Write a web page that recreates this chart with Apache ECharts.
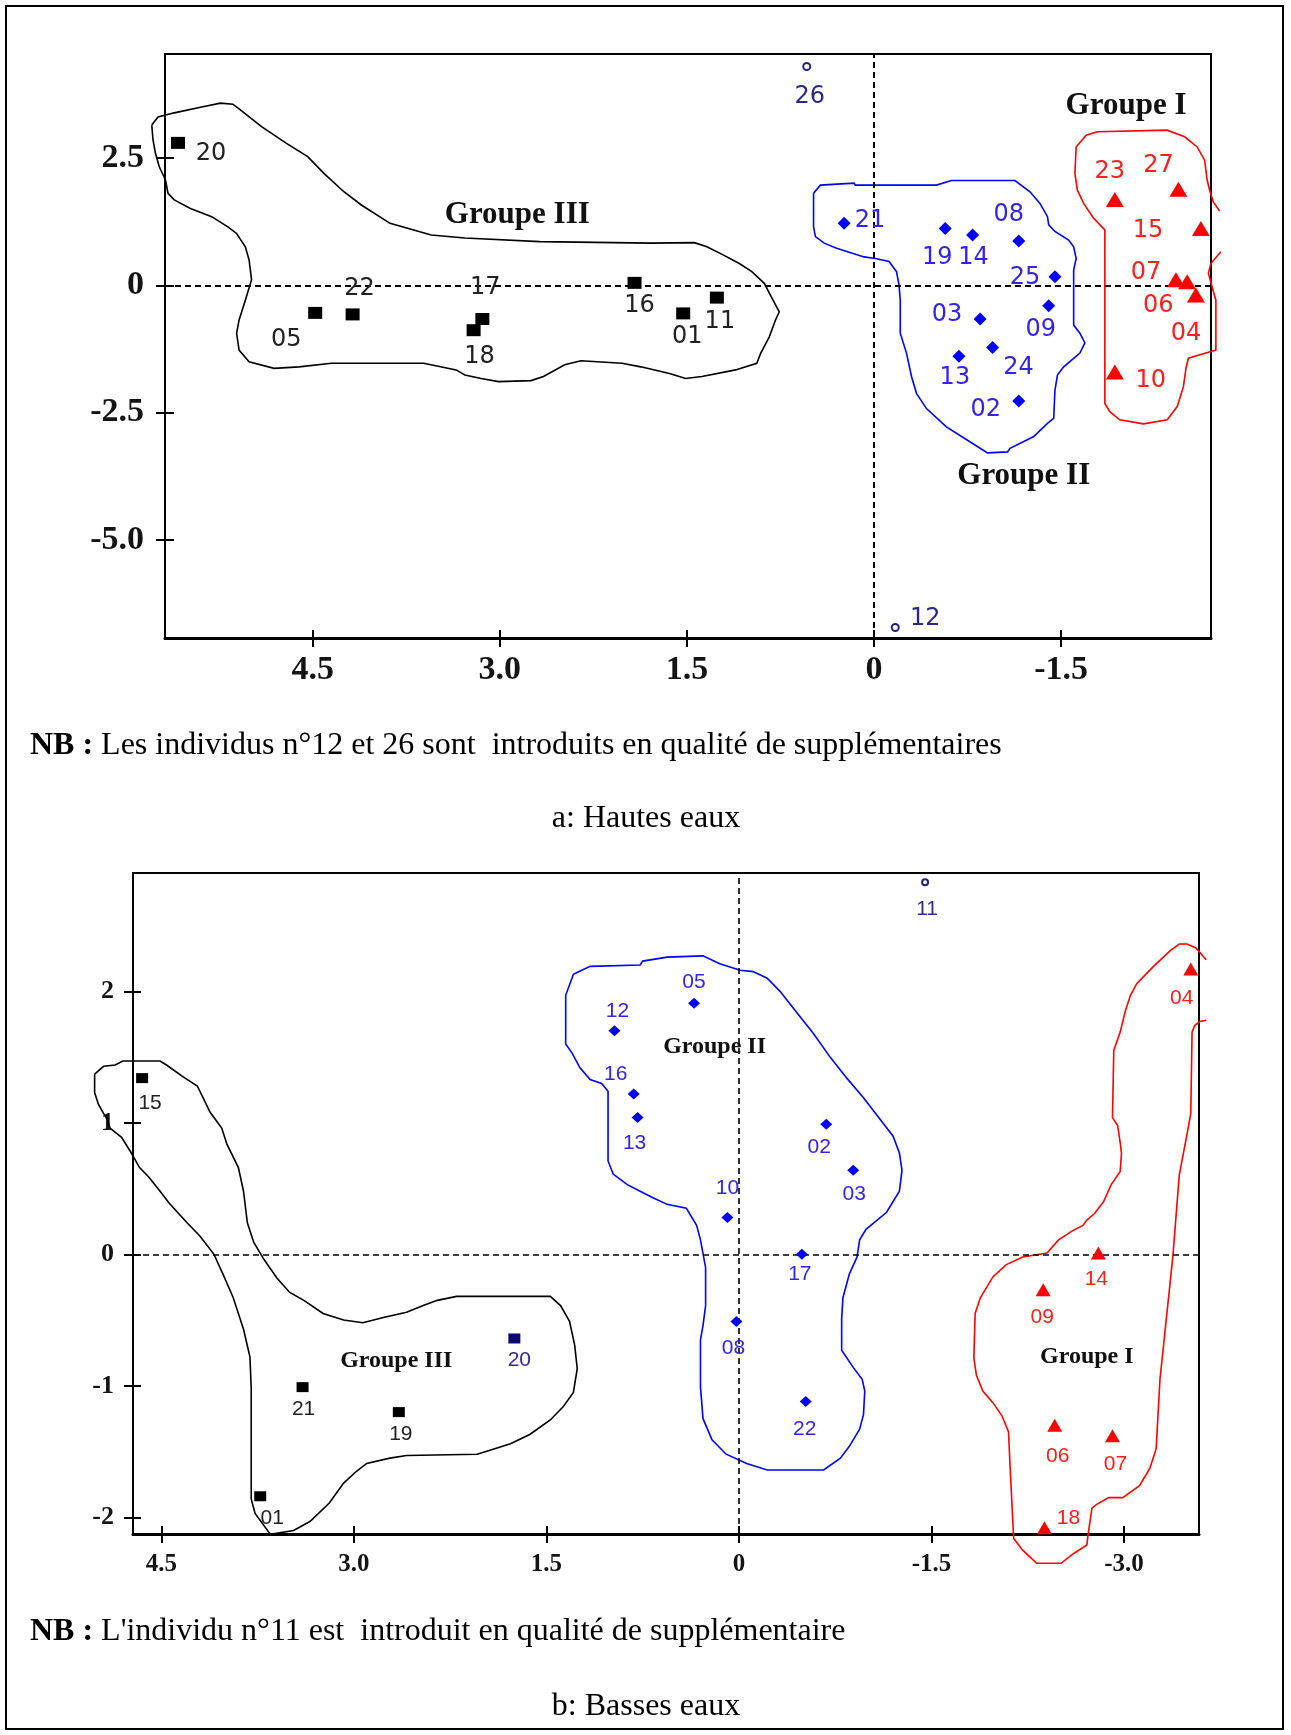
<!DOCTYPE html>
<html>
<head>
<meta charset="utf-8">
<script src="https://cdn.jsdelivr.net/npm/echarts@6/dist/echarts.min.js"></script>
<style>
  html, body { margin: 0; padding: 0; background: #fff; }
  #chart { width: 1291px; height: 1735px; }
</style>
</head>
<body>
<div id="chart"></div>
<script>
// ===== a: Hautes eaux — individuals as [id, F1, F2] =====
const hautesGroupeIII = [
  ['20', 5.58, 2.80], ['05', 4.48, -0.54], ['22', 4.18, -0.57], ['17', 3.14, -0.66],
  ['18', 3.21, -0.88], ['16', 1.92, 0.05], ['01', 1.53, -0.55], ['11', 1.26, -0.24]
];
const hautesGroupeII = [
  ['21', 0.24, 1.22], ['19', -0.57, 1.12], ['14', -0.79, 0.99], ['08', -1.16, 0.87],
  ['25', -1.45, 0.17], ['09', -1.40, -0.40], ['03', -0.85, -0.66], ['24', -0.95, -1.22],
  ['13', -0.68, -1.39], ['02', -1.16, -2.27]
];
const hautesGroupeI = [
  ['23', -1.93, 1.69], ['27', -2.44, 1.89], ['15', -2.62, 1.12], ['07', -2.42, 0.11],
  ['06', -2.51, 0.07], ['04', -2.58, -0.19], ['10', -1.93, -1.70]
];
const hautesSupplementaires = [['26', 0.54, 4.30], ['12', -0.17, -6.72]];

// group envelopes (factor-plane units)
const hautesContourIII = [
  [5.79,3.15],[5.74,3.31],[5.61,3.39],[5.38,3.51],[5.24,3.58],[5.14,3.56],[5.08,3.45],[4.91,3.12],
  [4.71,2.79],[4.54,2.53],[4.41,2.20],[4.25,1.84],[4.11,1.58],[3.88,1.22],[3.55,0.99],[3.28,0.93],
  [2.68,0.86],[1.79,0.83],[1.44,0.84],[1.34,0.76],[1.21,0.60],[1.08,0.43],[0.98,0.27],[0.88,0.04],
  [0.81,-0.29],[0.76,-0.52],[0.79,-0.68],[0.84,-1.01],[0.91,-1.34],[0.94,-1.53],[1.11,-1.66],
  [1.38,-1.79],[1.51,-1.83],[1.64,-1.73],[1.87,-1.60],[2.02,-1.53],[2.35,-1.48],[2.48,-1.56],
  [2.65,-1.79],[2.75,-1.87],[3.01,-1.89],[3.15,-1.83],[3.28,-1.76],[3.35,-1.66],[3.61,-1.53],
  [4.35,-1.53],[4.61,-1.60],[4.81,-1.63],[5.01,-1.50],[5.09,-1.27],[5.11,-0.94],[5.09,-0.68],
  [5.04,-0.29],[4.99,0.11],[5.01,0.50],[5.04,0.76],[5.11,1.02],[5.18,1.15],[5.31,1.35],[5.48,1.51],
  [5.61,1.68],[5.66,1.81],[5.68,2.07],[5.73,2.33],[5.76,2.59],[5.78,2.86]
];
const hautesContourII = [
  [0.485,1.81],[0.43,1.97],[0.16,2.01],[0.15,1.97],[-0.50,1.97],[-0.62,2.06],[-1.13,2.06],[-1.25,1.84],
  [-1.33,1.61],[-1.39,1.35],[-1.40,1.19],[-1.45,1.06],[-1.56,0.89],[-1.60,0.76],[-1.62,0.53],[-1.60,0.30],
  [-1.60,-0.35],[-1.60,-0.78],[-1.65,-0.94],[-1.69,-1.13],[-1.65,-1.33],[-1.52,-1.60],[-1.47,-1.76],
  [-1.45,-2.06],[-1.44,-2.61],[-1.39,-2.71],[-1.28,-2.97],[-1.09,-3.20],[-1.07,-3.27],[-0.91,-3.29],
  [-0.85,-3.20],[-0.58,-2.78],[-0.42,-2.42],[-0.34,-2.12],[-0.30,-1.79],[-0.26,-1.33],[-0.21,-0.94],
  [-0.21,-0.29],[-0.20,0.01],[-0.18,0.27],[-0.12,0.47],[-0.01,0.53],[0.08,0.56],[0.30,0.73],
  [0.40,0.83],[0.47,0.96],[0.485,1.15]
];
// open outline: it runs past the right frame of the plane
const hautesContourI = [
  [-2.78,0.66],[-2.70,0.43],[-2.68,0.24],[-2.72,-0.12],[-2.74,-0.29],[-2.74,-1.27],[-2.70,-1.30],
  [-2.52,-1.43],[-2.50,-1.63],[-2.48,-1.99],[-2.43,-2.38],[-2.35,-2.64],[-2.16,-2.72],[-1.97,-2.64],
  [-1.89,-2.48],[-1.85,-2.32],[-1.85,1.09],[-1.76,1.32],[-1.68,1.61],[-1.63,1.87],[-1.61,2.20],
  [-1.62,2.72],[-1.70,2.95],[-1.79,3.02],[-2.35,3.05],[-2.49,2.92],[-2.59,2.72],[-2.65,2.46],
  [-2.67,2.07],[-2.69,1.87],[-2.72,1.64],[-2.77,1.46]
];
const hautesXTicks = [4.5, 3.0, 1.5, 0, -1.5];
const hautesYTicks = [2.5, 0, -2.5, -5.0];

// ===== b: Basses eaux =====
const bassesGroupeIII = [
  ['15', 4.65, 1.34], ['21', 3.40, -1.01], ['19', 2.65, -1.20], ['01', 3.73, -1.84], ['20', 1.75, -0.64]
];
const bassesGroupeII = [
  ['05', 0.35, 1.91], ['12', 0.97, 1.70], ['16', 0.82, 1.22], ['13', 0.79, 1.04], ['02', -0.68, 0.99],
  ['03', -0.89, 0.64], ['10', 0.09, 0.28], ['17', -0.49, 0.00], ['08', 0.02, -0.51], ['22', -0.52, -1.12]
];
const bassesGroupeI = [
  ['04', -3.52, 2.17], ['14', -2.80, 0.01], ['09', -2.37, -0.27], ['06', -2.46, -1.30],
  ['07', -2.91, -1.38], ['18', -2.38, -2.08]
];
const bassesSupplementaires = [['11', -1.45, 2.83]];

const bassesContourIII = [
  [5.02,1.37],[5.02,1.23],[4.99,1.14],[4.92,1.02],[4.90,0.96],[4.81,0.89],[4.74,0.78],[4.67,0.66],
  [4.60,0.59],[4.51,0.48],[4.44,0.39],[4.30,0.24],[4.20,0.14],[4.09,0.00],[4.02,-0.15],[3.94,-0.33],
  [3.86,-0.57],[3.81,-0.78],[3.80,-1.02],[3.80,-1.29],[3.80,-1.86],[3.77,-1.97],[3.65,-2.13],
  [3.47,-2.10],[3.34,-2.03],[3.19,-1.89],[3.08,-1.74],[2.98,-1.65],[2.90,-1.59],[2.72,-1.55],
  [2.59,-1.53],[2.04,-1.52],[1.94,-1.49],[1.78,-1.44],[1.63,-1.37],[1.47,-1.26],[1.37,-1.16],
  [1.29,-1.05],[1.26,-0.87],[1.28,-0.69],[1.32,-0.51],[1.39,-0.39],[1.47,-0.32],[2.20,-0.32],
  [2.35,-0.35],[2.46,-0.39],[2.59,-0.44],[2.77,-0.48],[2.93,-0.52],[3.08,-0.50],[3.24,-0.45],
  [3.39,-0.35],[3.50,-0.29],[3.60,-0.18],[3.70,-0.04],[3.78,0.09],[3.83,0.24],[3.86,0.48],
  [3.90,0.66],[3.99,0.84],[4.03,0.96],[4.12,1.08],[4.22,1.28],[4.33,1.35],[4.46,1.44],[4.51,1.47],
  [4.80,1.47],[4.86,1.44],[4.95,1.43]
];
const bassesContourII = [
  [1.29,2.13],[1.16,2.19],[0.77,2.20],[0.75,2.23],[0.56,2.26],[0.28,2.27],[0.15,2.21],[-0.01,2.16],
  [-0.11,2.15],[-0.22,2.10],[-0.32,2.00],[-0.45,1.84],[-0.58,1.68],[-0.71,1.50],[-0.84,1.34],
  [-0.97,1.19],[-1.12,1.00],[-1.20,0.90],[-1.25,0.77],[-1.27,0.64],[-1.25,0.48],[-1.15,0.32],
  [-0.99,0.19],[-0.94,0.11],[-0.92,-0.02],[-0.86,-0.15],[-0.81,-0.33],[-0.80,-0.49],[-0.80,-0.73],
  [-0.89,-0.86],[-0.96,-0.95],[-0.98,-1.04],[-0.97,-1.22],[-0.94,-1.33],[-0.86,-1.46],[-0.79,-1.55],
  [-0.66,-1.64],[-0.22,-1.64],[-0.06,-1.59],[0.10,-1.52],[0.21,-1.41],[0.28,-1.25],[0.30,-1.01],
  [0.30,-0.65],[0.28,-0.54],[0.26,-0.39],[0.26,-0.10],[0.30,0.11],[0.33,0.22],[0.41,0.35],
  [0.56,0.38],[0.67,0.43],[0.77,0.48],[0.87,0.53],[0.98,0.61],[1.02,0.71],[1.02,1.24],[1.07,1.30],
  [1.16,1.33],[1.24,1.42],[1.30,1.53],[1.35,1.60],[1.35,1.97]
];
// open outline: both ends leave through the right frame
const bassesContourI = [
  [-3.64,2.24],[-3.56,2.33],[-3.49,2.36],[-3.43,2.36],[-3.36,2.31],[-3.23,2.19],[-3.10,2.06],
  [-3.05,1.97],[-3.01,1.85],[-2.97,1.69],[-2.92,1.55],[-2.91,1.04],[-2.95,0.98],[-2.97,0.85],
  [-2.98,0.77],[-2.97,0.63],[-2.90,0.53],[-2.84,0.40],[-2.77,0.31],[-2.71,0.26],[-2.68,0.22],
  [-2.60,0.18],[-2.49,0.11],[-2.40,0.01],[-2.21,-0.02],[-2.08,-0.08],[-1.98,-0.17],[-1.88,-0.33],
  [-1.84,-0.45],[-1.83,-0.79],[-1.85,-0.92],[-1.90,-1.04],[-1.98,-1.13],[-2.05,-1.23],[-2.10,-1.35],
  [-2.11,-1.57],[-2.14,-2.16],[-2.21,-2.25],[-2.32,-2.35],[-2.51,-2.35],[-2.60,-2.28],[-2.71,-2.21],
  [-2.72,-2.13],[-2.75,-1.93],[-2.79,-1.90],[-2.88,-1.85],[-2.99,-1.85],[-3.12,-1.76],[-3.20,-1.63],
  [-3.25,-1.48],[-3.28,-0.95],[-3.38,-0.02],[-3.43,0.60],[-3.49,0.91],[-3.52,1.07],[-3.53,1.69],
  [-3.55,1.74],[-3.59,1.77],[-3.64,1.78]
];
const bassesXTicks = [4.5, 3.0, 1.5, 0, -1.5, -3.0];
const bassesYTicks = [2, 1, 0, -1, -2];

// ----- label placement (pixel offsets from each marker) -----
const hautesLabelOffset = {
  '20': [33, 11], '05': [-29, 27], '22': [7, -26], '17': [3, -31], '18': [6, 27], '16': [5, 23],
  '01': [4, 23], '11': [3, 24],
  '21': [26, -3], '19': [-8, 29], '14': [1, 23], '08': [-10, -26], '25': [-30, 1], '09': [-8, 24],
  '03': [-33, -4], '24': [26, 20], '13': [-4, 22], '02': [-33, 9],
  '23': [-5, -28], '27': [-20, -23], '15': [-53, 2], '07': [-30, -7], '06': [-29, 24], '04': [-10, 39],
  '10': [36, 9],
  '26': [3, 30], '12': [30, -9]
};
const bassesLabelOffset = {
  '15': [8, 25], '21': [1, 22], '19': [2, 22], '01': [12, 22], '20': [5, 22],
  '05': [0, -21], '12': [3, -20], '16': [-18, -20], '13': [-3, 26], '02': [-7, 23], '03': [1, 24],
  '10': [0, -29], '17': [-2, 20], '08': [-3, 27], '22': [-1, 28],
  '04': [-9, 29], '14': [-2, 26], '09': [-1, 27], '06': [3, 31], '07': [3, 28], '18': [24, -10],
  '11': [2, 27]
};

// ----- chart construction -----
const chart = echarts.init(document.getElementById('chart'), null, { renderer: 'canvas', width: 1291, height: 1735 });

const decimalTick = v => (v === 0 ? '0' : v.toFixed(1));
const integerTick = v => String(v);

function axisPair(kind, gridIndex, min, max, ticks, fmt, o) {
  const common = {
    type: 'value', gridIndex, min, max,
    position: kind === 'x' ? 'bottom' : 'left',
    inverse: kind === 'x',
    splitLine: { show: false }, splitArea: { show: false }
  };
  const outer = Object.assign({}, common, {
    axisLine: { show: true, onZero: false, lineStyle: { color: '#000', width: o.lineWidth } },
    axisTick: { show: true, inside: false, length: o.tickOut, customValues: ticks, lineStyle: { color: '#000', width: 2 } },
    axisLabel: {
      show: true, customValues: ticks, formatter: fmt, margin: o.margin, color: '#141414',
      fontFamily: '"Liberation Serif", serif', fontWeight: 'bold', fontSize: o.fontSize
    }
  });
  const inner = Object.assign({}, common, {
    axisLine: { show: false, onZero: false },
    axisTick: { show: true, inside: true, length: o.tickIn, customValues: ticks, lineStyle: { color: '#000', width: 2 } },
    axisLabel: { show: false }
  });
  return [outer, inner];
}

// envelope drawn as one polyline, each vertex mapped through the axes
function contourSeries(points, color, gi, closed) {
  const pts = closed ? points.concat([points[0]]) : points;
  return {
    type: 'custom', xAxisIndex: gi, yAxisIndex: gi, clip: false, silent: true, animation: false, z: 2,
    data: [0],
    renderItem: (params, api) => ({
      type: 'polyline',
      shape: { points: pts.map(p => api.coord(p)) },
      style: { stroke: color, fill: null, lineWidth: 1.6 }
    })
  };
}

function pointSeries(rows, gi, marker, offsets, labelStyle, overrides) {
  return {
    type: 'scatter', xAxisIndex: gi, yAxisIndex: gi, clip: false, silent: true, animation: false, z: 5,
    symbol: marker.shape, symbolSize: marker.size, itemStyle: Object.assign({ opacity: 1 }, marker.item),
    label: Object.assign({ show: true, position: 'inside', formatter: '{b}' }, labelStyle),
    data: rows.map(([id, x, y]) => {
      const item = { name: id, value: [x, y], label: { offset: offsets[id] || [0, 0] } };
      const ov = overrides && overrides[id];
      if (ov) {
        item.itemStyle = Object.assign({ opacity: 1 }, ov.itemStyle);
        item.label.color = ov.labelColor;
      }
      return item;
    })
  };
}

function groupNameSeries(names, gi, fontSize) {
  return {
    type: 'scatter', xAxisIndex: gi, yAxisIndex: gi, clip: false, silent: true, animation: false, z: 6,
    symbolSize: 0, itemStyle: { opacity: 1 },
    label: {
      show: true, position: 'inside', formatter: '{b}', color: '#111',
      fontFamily: '"Liberation Serif", serif', fontWeight: 'bold', fontSize
    },
    data: names.map(([name, x, y]) => ({ name, value: [x, y] })),
    markLine: {
      silent: true, animation: false, symbol: ['none', 'none'], label: { show: false },
      lineStyle: { color: '#000', type: [6, 4], width: gi === 0 ? 2 : 1.6, opacity: 1 },
      data: [{ xAxis: 0 }, { yAxis: 0 }]
    }
  };
}

const hautesGroupNames = [['Groupe III', 2.86, 1.39], ['Groupe I', -2.02, 3.53], ['Groupe II', -1.20, -3.74]];
const bassesGroupNames = [['Groupe II', 0.19, 1.58], ['Groupe III', 2.67, -0.81], ['Groupe I', -2.71, -0.78]];

const square = (w, h, c) => ({ shape: 'rect', size: [w, h], item: { color: c } });
const diamond = (w, h) => ({ shape: 'diamond', size: [w, h], item: { color: '#0000ff' } });
const triangle = (w, h) => ({ shape: 'triangle', size: [w, h], item: { color: '#ff0000' } });
const ring = s => ({ shape: 'emptyCircle', size: s, item: { color: '#23237a', borderWidth: 1.5 } });

const topLabel = c => ({ color: c, fontFamily: '"DejaVu Sans", sans-serif', fontSize: 24 });
const botLabel = c => ({ color: c, fontFamily: '"Liberation Sans", sans-serif', fontSize: 21 });

const [hxo, hxi] = axisPair('x', 0, -2.701, 5.684, hautesXTicks, decimalTick, { lineWidth: 3, tickOut: 9, tickIn: 8, margin: 15, fontSize: 34 });
const [hyo, hyi] = axisPair('y', 0, -6.927, 4.546, hautesYTicks, decimalTick, { lineWidth: 2, tickOut: 9, tickIn: 9, margin: 21, fontSize: 34 });
const [bxo, bxi] = axisPair('x', 1, -3.584, 4.721, bassesXTicks, decimalTick, { lineWidth: 3, tickOut: 9, tickIn: 8, margin: 18, fontSize: 25 });
const [byo, byi] = axisPair('y', 1, -2.127, 2.900, bassesYTicks, integerTick, { lineWidth: 2, tickOut: 9, tickIn: 8, margin: 19, fontSize: 26 });

const option = {
  backgroundColor: '#fff',
  animation: false,
  grid: [
    { left: 165, top: 54, width: 1046, height: 584, show: true, borderColor: '#000', borderWidth: 2, backgroundColor: 'transparent' },
    { left: 133, top: 873, width: 1066, height: 661, show: true, borderColor: '#000', borderWidth: 2, backgroundColor: 'transparent' }
  ],
  xAxis: [hxo, bxo, hxi, bxi],
  yAxis: [hyo, byo, hyi, byi],
  series: [
    // a: Hautes eaux
    contourSeries(hautesContourIII, '#000000', 0, true),
    contourSeries(hautesContourII, '#0000ff', 0, true),
    contourSeries(hautesContourI, '#ff0000', 0, false),
    groupNameSeries(hautesGroupNames, 0, 31),
    pointSeries(hautesGroupeIII, 0, square(14, 12, '#000'), hautesLabelOffset, topLabel('#222')),
    pointSeries(hautesGroupeII, 0, diamond(13, 13), hautesLabelOffset, topLabel('#3424e6')),
    pointSeries(hautesGroupeI, 0, triangle(18, 15), hautesLabelOffset, topLabel('#ff2020')),
    pointSeries(hautesSupplementaires, 0, ring(7), hautesLabelOffset, topLabel('#2a2a80')),
    // b: Basses eaux
    contourSeries(bassesContourIII, '#000000', 1, true),
    contourSeries(bassesContourII, '#0000ff', 1, true),
    contourSeries(bassesContourI, '#ff0000', 1, false),
    groupNameSeries(bassesGroupNames, 1, 24),
    pointSeries(bassesGroupeIII, 1, square(12, 10, '#000'), bassesLabelOffset, botLabel('#222'),
      { '20': { itemStyle: { color: '#0b0b6e' }, labelColor: '#3a2a8a' } }),
    pointSeries(bassesGroupeII, 1, diamond(12, 11), bassesLabelOffset, botLabel('#3424e6')),
    pointSeries(bassesGroupeI, 1, triangle(15, 13), bassesLabelOffset, botLabel('#ff2020')),
    pointSeries(bassesSupplementaires, 1, ring(6), bassesLabelOffset, botLabel('#3a2a80'))
  ],
  graphic: [
    { type: 'rect', silent: true, shape: { x: 6, y: 6, width: 1277, height: 1723 },
      style: { fill: 'transparent', stroke: '#000', lineWidth: 2 } },
    { type: 'text', silent: true, x: 30, y: 730,
      style: {
        text: '{b|NB :} Les individus n°12 et 26 sont  introduits en qualité de supplémentaires',
        font: '32px "Liberation Serif", serif', fill: '#000',
        rich: { b: { fontWeight: 'bold', fontSize: 32, fontFamily: '"Liberation Serif", serif' } }
      } },
    { type: 'text', silent: true, x: 646, y: 803,
      style: { text: 'a: Hautes eaux', font: '32px "Liberation Serif", serif', fill: '#000', align: 'center', textAlign: 'center' } },
    { type: 'text', silent: true, x: 30, y: 1616,
      style: {
        text: "{b|NB :} L'individu n°11 est  introduit en qualité de supplémentaire",
        font: '32px "Liberation Serif", serif', fill: '#000',
        rich: { b: { fontWeight: 'bold', fontSize: 32, fontFamily: '"Liberation Serif", serif' } }
      } },
    { type: 'text', silent: true, x: 646, y: 1691,
      style: { text: 'b: Basses eaux', font: '32px "Liberation Serif", serif', fill: '#000', align: 'center', textAlign: 'center' } }
  ]
};

chart.setOption(option);
</script>
</body>
</html>
